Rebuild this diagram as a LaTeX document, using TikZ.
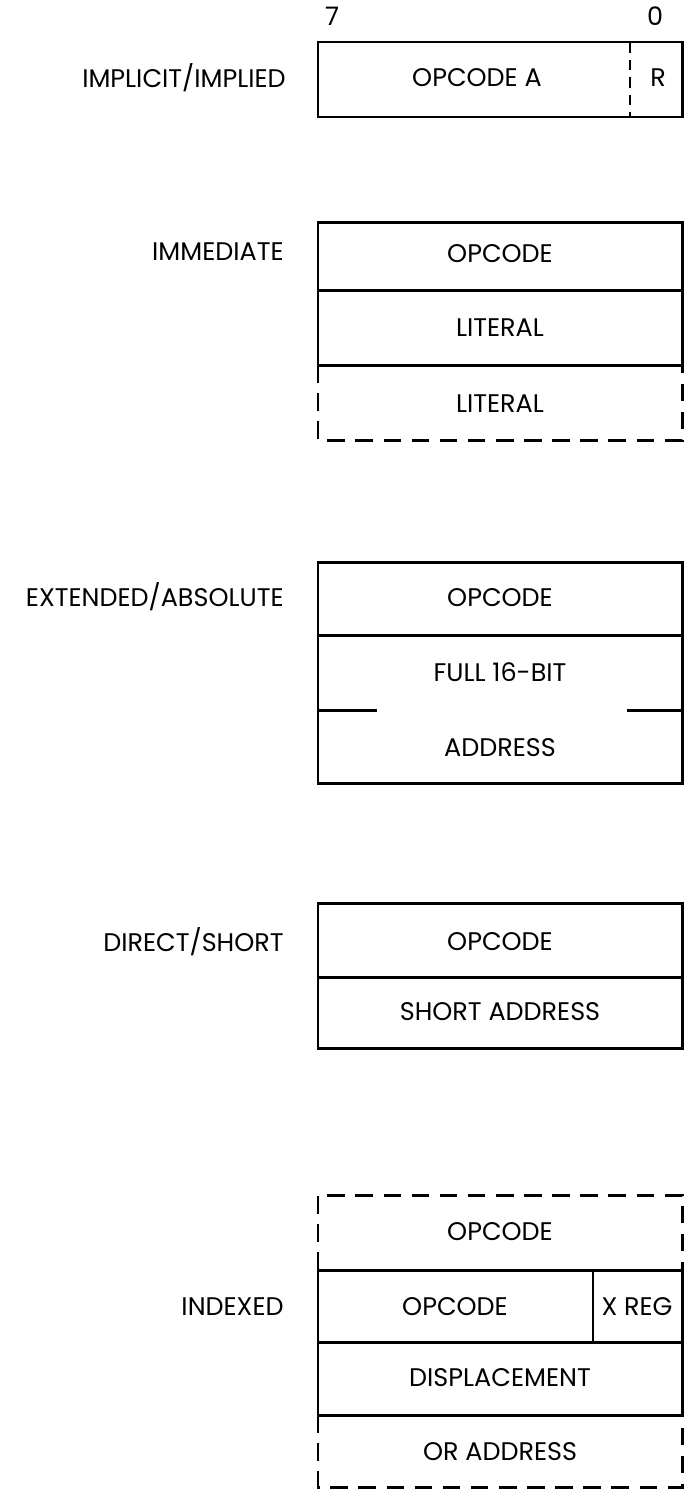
\documentclass[tikz,border=0pt]{standalone}
\usepackage{fontspec}
\setmainfont{Poppins}
\tikzset{
  wall/.style={draw=black, line width=1.7pt},
  ghostwall/.style={wall, dash pattern=on 10pt off 6pt},
  tickwall/.style={draw=black, line width=1pt, dash pattern=on 6pt off 4pt},
  field/.style={font=\fontsize{14.5}{17}\selectfont, inner sep=0pt},
  modename/.style={field, anchor=east},
}
\begin{document}
\begin{tikzpicture}[x=0.02cm,y=-0.02cm]
\useasboundingbox (0,0) rectangle (687,1495);
% implicit / implied
\node[modename] (implname) at (286,78) {IMPLICIT/IMPLIED};
\node[field] (bithi) at (332,16) {7};
\node[field] (bitlo) at (655,16) {0};
\draw[wall] (318,42) rectangle (682,117);
\draw[tickwall] (630,42) -- (630,117);
\node[field] (implop) at (477,78) {OPCODE A};
\node[field] (implreg) at (658,78) {R};
% immediate
\node[modename] (immname) at (284,252) {IMMEDIATE};
\draw[wall] (318,222) rectangle (682,365);
\draw[wall] (318,290) -- (682,290);
\draw[ghostwall] (318,365) -- (318,440) -- (682,440) -- (682,365);
\node[field] (immop) at (500,254) {OPCODE};
\node[field] (immlit) at (500,328) {LITERAL};
\node[field] (immlitb) at (500,404) {LITERAL};
% extended / absolute
\node[modename] (extname) at (284,597) {EXTENDED/ABSOLUTE};
\draw[wall] (318,562) rectangle (682,783);
\draw[wall] (318,635) -- (682,635);
\draw[wall] (318,710) -- (377,710);
\draw[wall] (627,710) -- (682,710);
\node[field] (extop) at (500,598) {OPCODE};
\node[field] (extfull) at (500,672) {FULL 16-BIT};
\node[field] (extaddr) at (500,748) {ADDRESS};
% direct / short
\node[modename] (dirname) at (284,942) {DIRECT/SHORT};
\draw[wall] (318,903) rectangle (682,1048);
\draw[wall] (318,977) -- (682,977);
\node[field] (dirop) at (500,942) {OPCODE};
\node[field] (diraddr) at (500,1012) {SHORT ADDRESS};
% indexed
\node[modename] (idxname) at (284,1307) {INDEXED};
\draw[ghostwall] (318,1270) -- (318,1195) -- (682,1195) -- (682,1270);
\draw[wall] (318,1270) rectangle (682,1415);
\draw[wall] (318,1342) -- (682,1342);
\draw[wall] (593,1270) -- (593,1342);
\draw[ghostwall] (318,1415) -- (318,1487) -- (682,1487) -- (682,1415);
\node[field] (idxpre) at (500,1232) {OPCODE};
\node[field] (idxop) at (455,1307) {OPCODE};
\node[field] (idxreg) at (637,1307) {X REG};
\node[field] (idxdisp) at (500,1378) {DISPLACEMENT};
\node[field] (idxaddr) at (500,1452) {OR ADDRESS};
\end{tikzpicture}
\end{document}
